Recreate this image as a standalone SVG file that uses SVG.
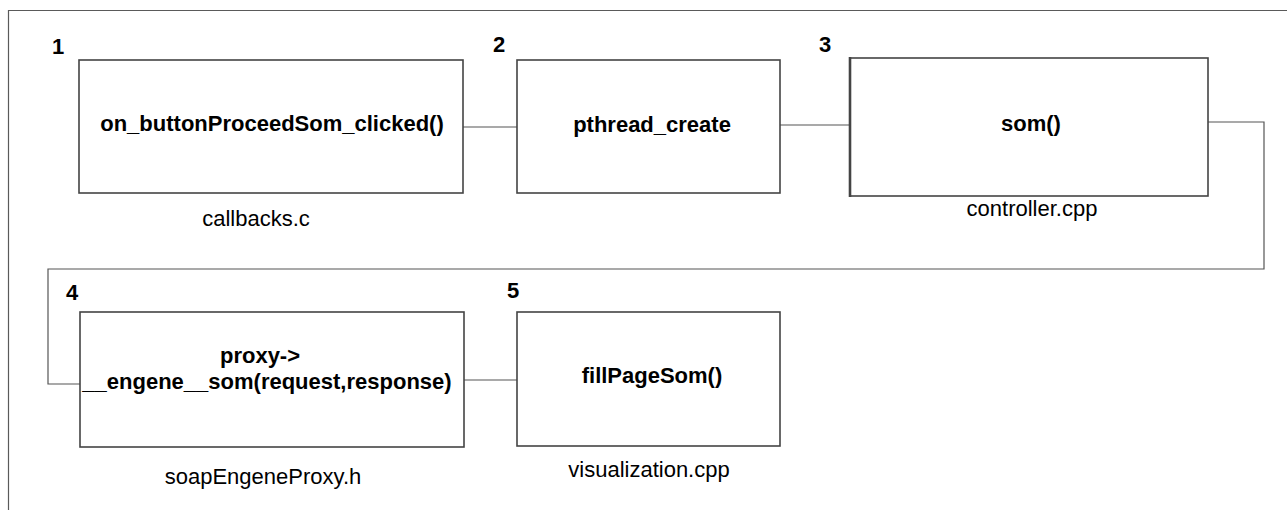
<svg xmlns="http://www.w3.org/2000/svg" width="1287" height="510" viewBox="0 0 1287 510">
<style>
.frame{fill:none;stroke:#5a5a5a;stroke-width:1.2}
.box{fill:#fff;stroke:#444;stroke-width:1.6}
.conn{fill:none;stroke:#555;stroke-width:1.2}
.t{font-family:"Liberation Sans",Arial,sans-serif;font-size:22px;font-weight:bold;fill:#000;text-anchor:middle}
.num{font-family:"Liberation Sans",Arial,sans-serif;font-size:22px;font-weight:bold;fill:#000}
.lbl{font-family:"Liberation Sans",Arial,sans-serif;font-size:22px;fill:#000;text-anchor:middle}
</style>
<rect x="0" y="0" width="1287" height="510" fill="#fff"/>
<path class="frame" d="M8.5,520 V10.5 H1300"/>
<g id="connectors">
<line class="conn" x1="463" y1="127" x2="517" y2="127"/>
<line class="conn" x1="780" y1="125" x2="850" y2="125"/>
<polyline class="conn" points="1208,122 1264,122 1264,269 48,269 48,384 80,384"/>
<line class="conn" x1="464" y1="380" x2="517" y2="380"/>
</g>
<g id="node1">
<text class="num" x="52" y="54">1</text>
<rect class="box" x="79" y="60" width="384" height="133"/>
<text class="t" x="272" y="131">on_buttonProceedSom_clicked()</text>
<text class="lbl" x="256" y="226">callbacks.c</text>
</g>
<g id="node2">
<text class="num" x="493" y="52">2</text>
<rect class="box" x="517" y="60" width="263" height="133"/>
<text class="t" x="652" y="132">pthread_create</text>
</g>
<g id="node3">
<text class="num" x="819" y="52">3</text>
<rect class="box" x="850" y="58" width="358" height="138"/>
<line x1="850" y1="57" x2="850" y2="197" stroke="#444" stroke-width="2.6"/>
<text class="t" x="1031" y="131">som()</text>
<text class="lbl" x="1032" y="216">controller.cpp</text>
</g>
<g id="node4">
<text class="num" x="66" y="300">4</text>
<rect class="box" x="80" y="312" width="384" height="135"/>
<text class="t" x="260" y="363">proxy-&gt;</text>
<text class="t" x="267" y="389">__engene__som(request,response)</text>
<text class="lbl" x="263" y="484">soapEngeneProxy.h</text>
</g>
<g id="node5">
<text class="num" x="507" y="298">5</text>
<rect class="box" x="517" y="312" width="263" height="134"/>
<text class="t" x="652" y="383">fillPageSom()</text>
<text class="lbl" x="649" y="477">visualization.cpp</text>
</g>
</svg>
